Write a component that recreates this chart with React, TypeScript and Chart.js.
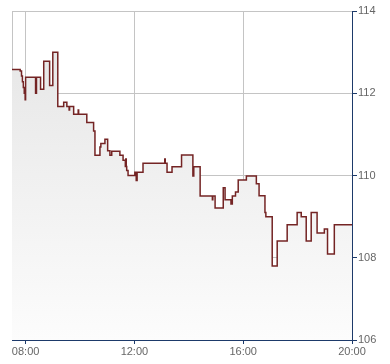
import { useEffect, useRef } from 'react';
import { Chart, registerables } from 'chart.js';

Chart.register(...registerables);

const times = [
  '07:30', '07:48', '07:51', '07:53', '07:55', '07:57', '07:59', '08:00', '08:22', '08:24',
  '08:33', '08:40', '08:53', '09:00', '09:11', '09:24', '09:31', '09:36', '09:37', '09:46',
  '09:56', '09:57', '10:15', '10:30', '10:33', '10:44', '10:46', '10:55', '11:01', '11:06',
  '11:10', '11:28', '11:35', '11:40', '11:41', '11:42', '11:43', '11:46', '12:01', '12:04',
  '12:06', '12:19', '13:07', '13:08', '13:12', '13:23', '13:44', '14:09', '14:11', '14:25',
  '14:52', '14:53', '14:58', '15:16', '15:20', '15:33', '15:36', '15:43', '15:49', '16:07',
  '16:29', '16:35', '16:48', '16:50', '17:04', '17:15', '17:37', '17:59', '18:08', '18:19',
  '18:30', '18:43', '18:59', '19:06', '19:21', '20:00',
];

const prices = [
  112.58, 112.54, 112.42, 112.28, 112.14, 112.0, 111.84, 112.39, 112.0, 112.39,
  112.1, 112.78, 112.19, 113.0, 111.68, 111.78, 111.68, 111.59, 111.68, 111.49,
  111.59, 111.49, 111.29, 111.08, 110.49, 110.69, 110.78, 110.88, 110.6, 110.49,
  110.59, 110.49, 110.37, 110.22, 110.4, 110.22, 110.12, 110.0, 110.08, 109.88,
  110.08, 110.3, 110.4, 110.3, 110.08, 110.21, 110.5, 109.99, 110.21, 109.5,
  109.41, 109.5, 109.21, 109.7, 109.41, 109.31, 109.5, 109.6, 109.89, 109.99,
  109.8, 109.51, 109.1, 109.0, 107.8, 108.41, 108.8, 109.1, 109.0, 108.41,
  109.1, 108.6, 108.7, 108.09, 108.8, 108.8,
];

const xTickHours = [8, 12, 16, 20];
const xMin = 7.5;
const xMax = 20;
const yMin = 106;
const yMax = 114;
const yStep = 2;

const toHours = (t: string) => {
  const [h, m] = t.split(':').map(Number);
  return h + m / 60;
};

const fmtHour = (v: number) => {
  const h = Math.floor(v);
  const m = Math.round((v - h) * 60);
  return String(h).padStart(2, '0') + ':' + String(m).padStart(2, '0');
};

const GRID = '#c4c4c4';
const AXIS = '#1d3a6a';
const TEXT = '#666666';
const FONT = { family: '"Liberation Sans", Arial, sans-serif', size: 11 };

const leftBorder = {
  id: 'leftBorder',
  beforeDatasetsDraw(chart: any) {
    const { ctx, chartArea } = chart;
    ctx.save();
    ctx.strokeStyle = GRID;
    ctx.lineWidth = 1;
    ctx.beginPath();
    ctx.moveTo(chartArea.left + 0.5, chartArea.top);
    ctx.lineTo(chartArea.left + 0.5, chartArea.bottom);
    ctx.stroke();
    ctx.restore();
  },
};

export default function App() {
  const ref = useRef<HTMLCanvasElement>(null);

  useEffect(() => {
    document.body.style.margin = '0';
    const canvas = ref.current;
    if (!canvas) return;
    const data = times.map((t, i) => ({ x: toHours(t), y: prices[i] }));
    const chart = new Chart(canvas, {
      type: 'line',
      data: {
        datasets: [
          {
            data,
            stepped: 'before',
            borderColor: '#742424',
            borderWidth: 1.5,
            pointRadius: 0,
            fill: 'start',
            backgroundColor: (c: any) => {
              const area = c.chart.chartArea;
              if (!area) return '#eeeeee';
              const g = c.chart.ctx.createLinearGradient(0, area.top, 0, area.bottom);
              g.addColorStop(0, '#e4e4e4');
              g.addColorStop(1, '#fcfcfc');
              return g;
            },
          },
        ],
      },
      options: {
        responsive: false,
        animation: false,
        layout: { padding: { left: 12, top: 11, right: 0, bottom: 0 } },
        plugins: { legend: { display: false }, tooltip: { enabled: false } },
        scales: {
          x: {
            type: 'linear',
            min: xMin,
            max: xMax,
            afterBuildTicks: (axis: any) => {
              axis.ticks = xTickHours.map((v) => ({ value: v }));
            },
            afterFit: (axis: any) => {
              axis.height = 24;
            },
            grid: { color: GRID, tickColor: AXIS, tickLength: 4, drawTicks: true },
            border: { color: AXIS, width: 1 },
            ticks: {
              color: TEXT,
              font: FONT,
              padding: 1,
              maxRotation: 0,
              autoSkip: false,
              callback: (v: any) => fmtHour(Number(v)),
            },
          },
          y: {
            position: 'right',
            min: yMin,
            max: yMax,
            afterFit: (axis: any) => {
              axis.width = 38;
            },
            grid: { color: GRID, tickColor: AXIS, tickLength: 5, drawTicks: true },
            border: { color: AXIS, width: 1 },
            ticks: { stepSize: yStep, color: TEXT, font: FONT, padding: 1 },
          },
        },
      },
      plugins: [leftBorder],
    });
    return () => chart.destroy();
  }, []);

  return (
    <div style={{ width: 390, height: 364 }}>
      <canvas ref={ref} width={390} height={364} style={{ display: 'block' }} />
    </div>
  );
}
